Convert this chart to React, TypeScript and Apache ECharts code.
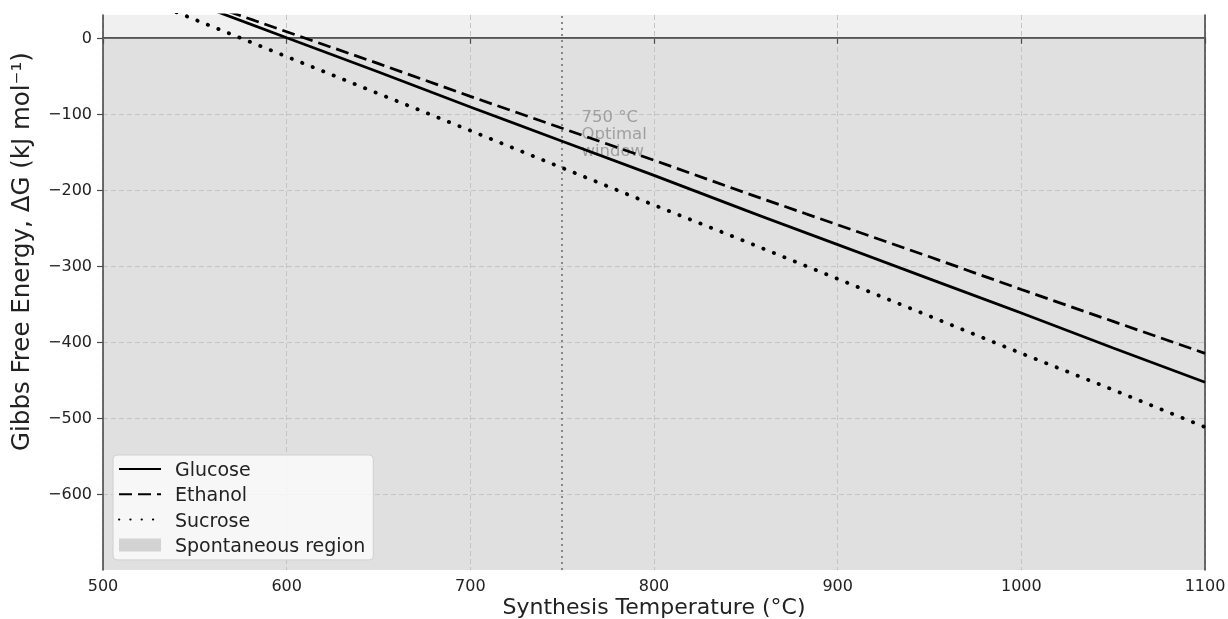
import React, { useEffect, useRef } from "react";
import * as echarts from "echarts";

const temperatures = [500, 550, 600, 650, 700, 750, 800, 850, 900, 950, 1000, 1050, 1100];
const glucose = [90.6, 45.3, 0, -45, -91, -136, -181, -227, -272, -317, -362, -408, -453];
const ethanol = [92.5, 50, 8, -34, -77, -119, -161, -204, -246, -288, -331, -373, -415];
const sucrose = [72.7, 24, -24.7, -73.4, -122, -171, -220, -268, -317, -366, -415, -463, -512];
const optimalT = 750;
const annotationText = "750 °C\nOptimal\nwindow";
const xTicks = [500, 600, 700, 800, 900, 1000, 1100];
const yTicks = [-600, -500, -400, -300, -200, -100, 0];

const minus = (v: number) => String(v).replace("-", "\u2212");

export default function App() {
  const ref = useRef<HTMLDivElement>(null);
  useEffect(() => {
    if (!ref.current) return;
    const chart = echarts.init(ref.current, undefined, { renderer: "svg" });
    const font = "DejaVu Sans";
    const pair = (arr: number[]) => temperatures.map((t, i) => [t, arr[i]]);
    const frame = { color: "#4a4a4a", width: 1.6 };
    const grid = { color: "#c4c4c4", type: [5, 3], width: 1 };
    chart.setOption({
      animation: false,
      textStyle: { fontFamily: font },
      grid: {
        left: 103,
        right: 23,
        top: 15,
        bottom: 49,
        outerBoundsMode: "none",
        containLabel: false,
        show: true,
        backgroundColor: "#f0f0f0",
        borderWidth: 0,
      },
      legend: {
        orient: "vertical",
        left: 113,
        top: 455,
        padding: [4.5, 8, 5.5, 5],
        itemWidth: 42,
        itemHeight: 13,
        itemGap: 6.3,
        backgroundColor: "rgba(250,250,250,0.85)",
        borderColor: "#d0d0d0",
        borderWidth: 1,
        borderRadius: 4,
        textStyle: { fontSize: 19, lineHeight: 19, color: "#222", fontFamily: font, padding: [0, 0, 0, 9] },
        data: [
          { name: "Glucose", itemStyle: { opacity: 0 } },
          { name: "Ethanol", itemStyle: { opacity: 0 } },
          { name: "Sucrose", itemStyle: { opacity: 0 } },
          { name: "Spontaneous region", icon: "rect", itemStyle: { color: "#d3d3d3", opacity: 1 } },
        ],
      },
      xAxis: [
        {
          type: "value",
          min: 500,
          max: 1100,
          interval: 100,
          z: 1.5,
          name: "Synthesis Temperature (°C)",
          nameLocation: "middle",
          nameGap: 25,
          nameMoveOverlap: false,
          nameTextStyle: { fontSize: 22, lineHeight: 22, color: "#222", fontFamily: font },
          axisLine: { show: true, lineStyle: frame },
          axisTick: { show: true, length: 6, customValues: xTicks, lineStyle: { color: "#4a4a4a", width: 1.2 } },
          axisLabel: { fontSize: 16, color: "#222", margin: 7, customValues: xTicks, formatter: (v: number) => String(v) },
          splitLine: { show: true, lineStyle: grid },
        },
        {
          type: "value",
          position: "top",
          min: 500,
          max: 1100,
          interval: 100,
          z: 3,
          axisLine: { show: true, lineStyle: frame },
          axisTick: { show: false },
          axisLabel: { show: false },
          splitLine: { show: false },
        },
      ],
      yAxis: [
        {
          type: "value",
          min: -700,
          max: 30,
          interval: 100,
          z: 1.5,
          name: "Gibbs Free Energy, ΔG (kJ mol⁻¹)",
          nameLocation: "middle",
          nameGap: 70,
          nameMoveOverlap: false,
          nameTextStyle: { fontSize: 24.5, color: "#222", fontFamily: font, padding: [0, 0, 0, 82] },
          axisLine: { show: true, lineStyle: frame },
          axisTick: { show: true, length: 6, customValues: yTicks, lineStyle: { color: "#4a4a4a", width: 1.2 } },
          axisLabel: { fontSize: 16, color: "#222", margin: 11, customValues: yTicks, formatter: (v: number) => minus(v) },
          splitLine: { show: true, lineStyle: grid },
        },
        {
          type: "value",
          position: "right",
          min: -700,
          max: 30,
          interval: 100,
          z: 3,
          axisLine: { show: true, lineStyle: frame },
          axisTick: { show: false },
          axisLabel: { show: false },
          splitLine: { show: false },
        },
      ],
      series: [
        {
          name: "Spontaneous region",
          type: "line",
          data: [[500, 0], [1100, 0]],
          symbol: "none",
          lineStyle: { width: 0 },
          itemStyle: { color: "#d3d3d3" },
          areaStyle: { color: "#e0e0e0", opacity: 1, origin: "start" },
          z: 1,
          silent: true,
        },
        {
          name: "annotation",
          type: "scatter",
          data: [[760.5, -126]],
          symbolSize: 0,
          z: 2,
          silent: true,
          label: {
            show: true,
            position: "right",
            distance: 0,
            formatter: annotationText,
            fontSize: 16.5,
            lineHeight: 17,
            color: "#8e8e8e",
            fontFamily: font,
            align: "left",
          },
          markLine: {
            silent: true,
            symbol: "none",
            label: { show: false },
            data: [
              { xAxis: optimalT, lineStyle: { color: "#888", type: [2, 4], width: 2 } },
              { yAxis: 0, lineStyle: { color: "#6a6a6a", type: "solid", width: 1 } },
            ],
          },
        },
        {
          name: "Glucose",
          type: "line",
          data: pair(glucose),
          symbol: "none",
          z: 5,
          lineStyle: { color: "#000", width: 2.8, type: "solid" },
          itemStyle: { color: "#000" },
        },
        {
          name: "Ethanol",
          type: "line",
          data: pair(ethanol),
          symbol: "none",
          z: 5,
          lineStyle: { color: "#000", width: 2.8, type: [13, 6] },
          itemStyle: { color: "#000" },
        },
        {
          name: "Sucrose",
          type: "line",
          data: pair(sucrose),
          symbol: "none",
          z: 5,
          lineStyle: { color: "#000", width: 3.8, type: [0.3, 11], cap: "round" },
          itemStyle: { color: "#000" },
        },
      ],
    });
    return () => chart.dispose();
  }, []);
  return <div ref={ref} style={{ position: "fixed", left: 0, top: 0, width: 1228, height: 619 }} />;
}
